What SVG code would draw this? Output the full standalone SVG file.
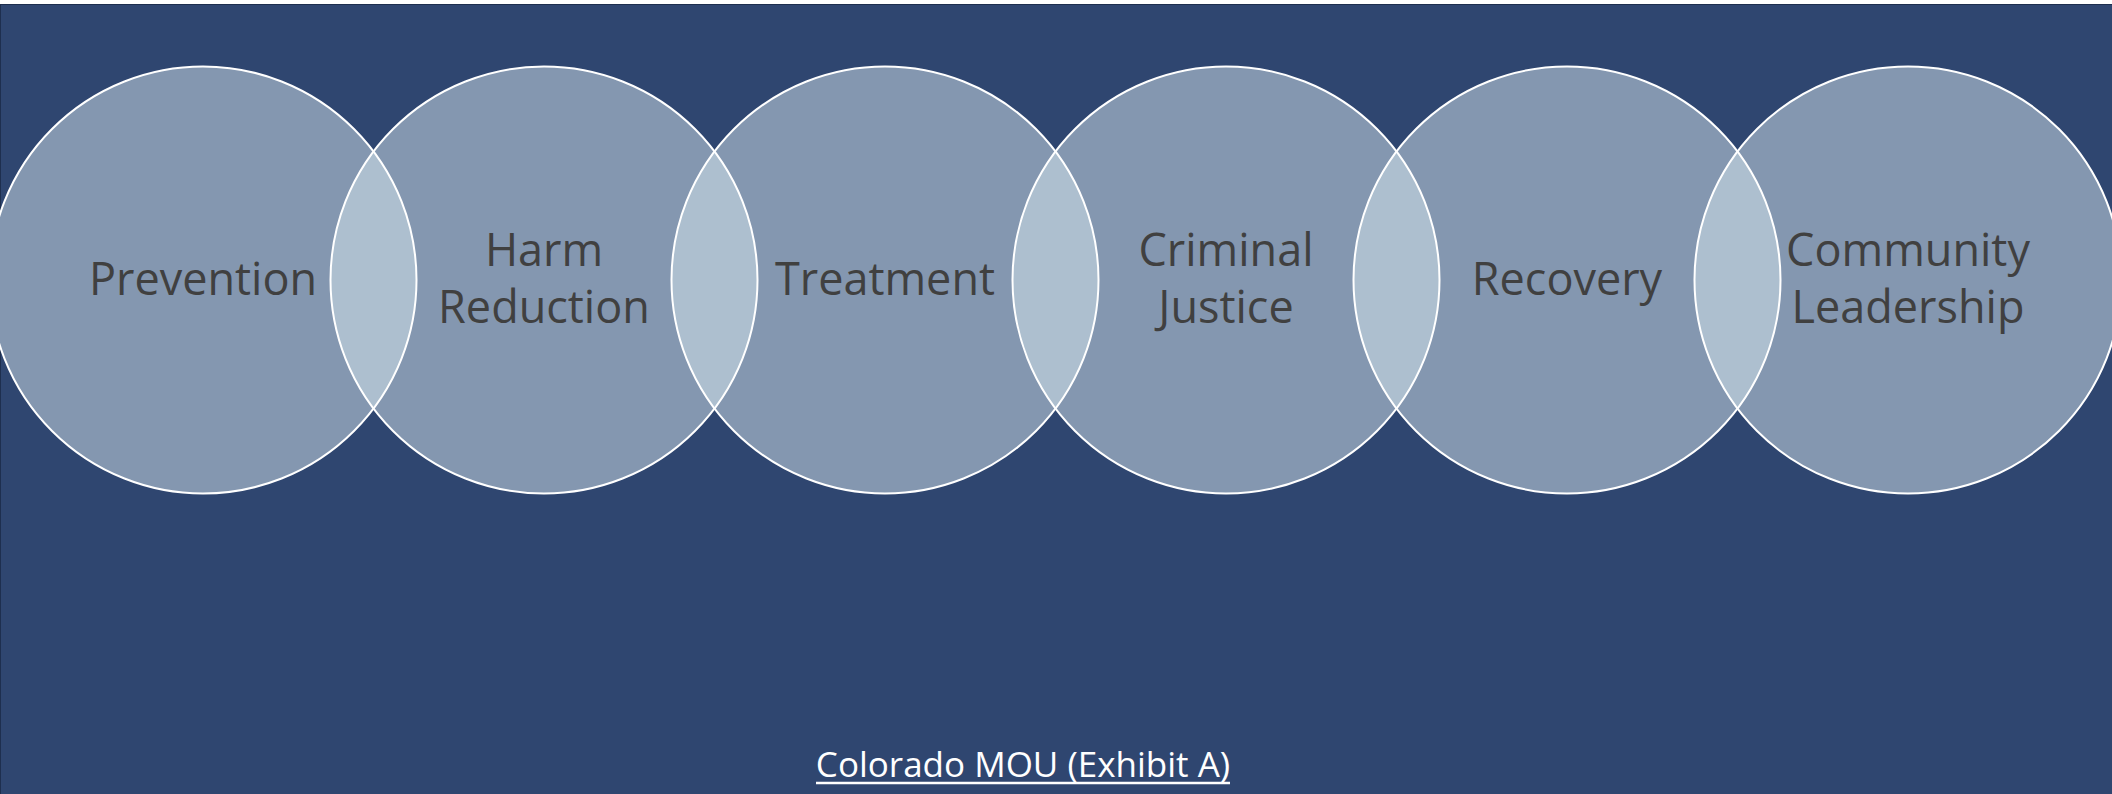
<svg xmlns="http://www.w3.org/2000/svg" width="2112" height="794" viewBox="0 0 2112 794">
<style>
.circ{fill:#8497B0;stroke:none}
.lens{fill:#ADBFCF;stroke:none}
.ring{fill:none;stroke:#FFFFFF;stroke-width:2}
.lbl{font-family:"Open Sans","Liberation Sans",sans-serif;font-size:45px;fill:#404040;text-anchor:middle}
.cap{font-family:"Open Sans","Liberation Sans",sans-serif;font-size:35px;fill:#FFFFFF;text-anchor:middle}
</style>
<rect x="0" y="0" width="2112" height="794" fill="#FFFFFF"/>
<rect x="0.5" y="4.5" width="2112" height="790" fill="#2F4670" stroke="#1E2F4F" stroke-width="1"/>
<g id="fills">
<circle class="circ" cx="203" cy="280" r="213.5"/>
<circle class="circ" cx="544" cy="280" r="213.5"/>
<circle class="circ" cx="885" cy="280" r="213.5"/>
<circle class="circ" cx="1226" cy="280" r="213.5"/>
<circle class="circ" cx="1567" cy="280" r="213.5"/>
<circle class="circ" cx="1908" cy="280" r="213.5"/>
<path class="lens" d="M373.5,151.5 A213.5,213.5 0 0 1 373.5,408.5 A213.5,213.5 0 0 1 373.5,151.5 Z"/>
<path class="lens" d="M714.5,151.5 A213.5,213.5 0 0 1 714.5,408.5 A213.5,213.5 0 0 1 714.5,151.5 Z"/>
<path class="lens" d="M1055.5,151.5 A213.5,213.5 0 0 1 1055.5,408.5 A213.5,213.5 0 0 1 1055.5,151.5 Z"/>
<path class="lens" d="M1396.5,151.5 A213.5,213.5 0 0 1 1396.5,408.5 A213.5,213.5 0 0 1 1396.5,151.5 Z"/>
<path class="lens" d="M1737.5,151.5 A213.5,213.5 0 0 1 1737.5,408.5 A213.5,213.5 0 0 1 1737.5,151.5 Z"/>
</g>
<g id="prevention">
<circle class="ring" cx="203" cy="280" r="213.5"/>
<text class="lbl" x="203" y="295">Prevention</text>
</g>
<g id="harm-reduction">
<circle class="ring" cx="544" cy="280" r="213.5"/>
<text class="lbl" x="544" y="266">Harm</text>
<text class="lbl" x="544" y="323">Reduction</text>
</g>
<g id="treatment">
<circle class="ring" cx="885" cy="280" r="213.5"/>
<text class="lbl" x="885" y="295">Treatment</text>
</g>
<g id="criminal-justice">
<circle class="ring" cx="1226" cy="280" r="213.5"/>
<text class="lbl" x="1226" y="266">Criminal</text>
<text class="lbl" x="1226" y="323">Justice</text>
</g>
<g id="recovery">
<circle class="ring" cx="1567" cy="280" r="213.5"/>
<text class="lbl" x="1567" y="295">Recovery</text>
</g>
<g id="community-leadership">
<circle class="ring" cx="1908" cy="280" r="213.5"/>
<text class="lbl" x="1908" y="266">Community</text>
<text class="lbl" x="1908" y="323">Leadership</text>
</g>
<g id="connectors"></g>
<g id="caption">
<text class="cap" x="1023" y="777">Colorado MOU (Exhibit A)</text>
<line x1="816" y1="783" x2="1230" y2="783" stroke="#FFFFFF" stroke-width="2.5"/>
</g>
</svg>
